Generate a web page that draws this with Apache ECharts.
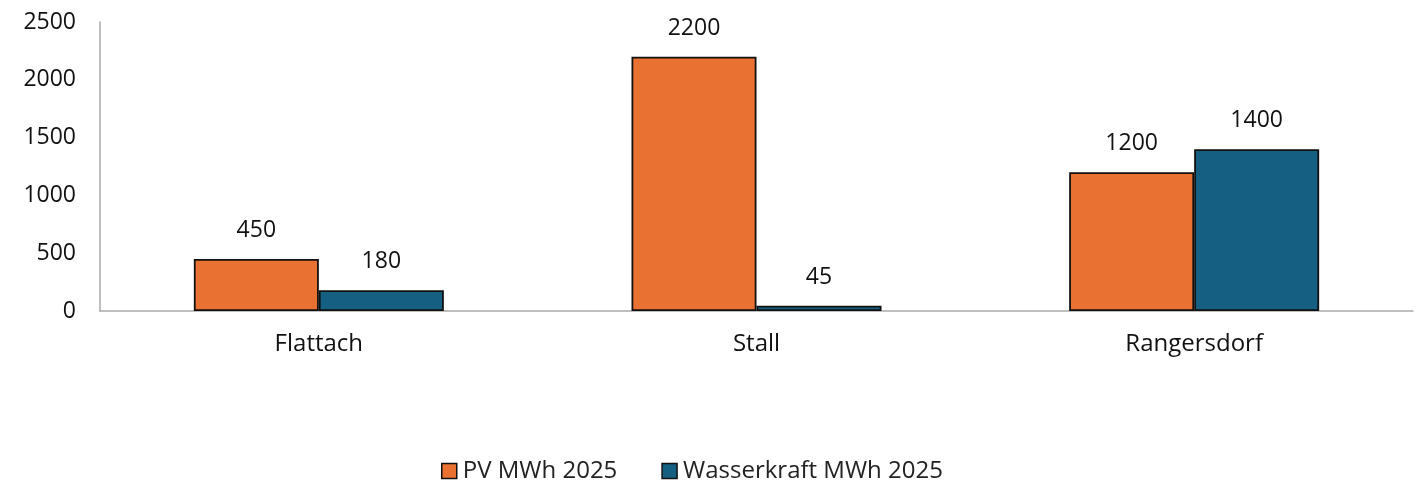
<!DOCTYPE html>
<html>
<head>
<meta charset="utf-8">
<script src="https://cdn.jsdelivr.net/npm/echarts@6/dist/echarts.min.js"></script>
<style>html,body{margin:0;padding:0;background:#fff}#c{width:1422px;height:491px}</style>
</head>
<body>
<div id="c"></div>
<script>
const categories = ['Flattach', 'Stall', 'Rangersdorf'];
const pvValues = [450, 2200, 1200];
const waterValues = [180, 45, 1400];
const seriesNames = ['PV MWh 2025', 'Wasserkraft MWh 2025'];

const font = '"Open Sans", "Noto Sans", sans-serif';
const chart = echarts.init(document.getElementById('c'));
const lbl = {show: true, position: 'top', distance: 17, color: '#111', fontSize: 23, fontFamily: font};
chart.setOption({
  animation: false,
  grid: {left: 100, right: 9, top: 22, bottom: 180, containLabel: false},
  legend: {
    top: 454, left: 436, itemWidth: 15, itemHeight: 15, itemGap: 44,
    icon: 'rect',
    itemStyle: {borderColor: '#111', borderWidth: 1.5},
    textStyle: {fontSize: 24, color: '#222', fontFamily: font, padding: [0, 0, 0, 1]},
    data: seriesNames
  },
  xAxis: {
    type: 'category', data: categories,
    axisLine: {lineStyle: {color: '#aaa', width: 1.5}},
    axisTick: {show: false},
    axisLabel: {fontSize: 24, color: '#111', margin: 21, fontFamily: font}
  },
  yAxis: {
    type: 'value', min: 0, max: 2500, interval: 500,
    splitLine: {show: false},
    axisLine: {show: true, lineStyle: {color: '#aaa', width: 1.5}},
    axisLabel: {fontSize: 23, color: '#111', margin: 24, fontFamily: font, formatter: v => String(v)}
  },
  series: [
    {name: seriesNames[0], type: 'bar', data: pvValues, barWidth: 125, barGap: '0%',
     itemStyle: {color: '#E97132', borderColor: '#111', borderWidth: 1.8}, label: lbl},
    {name: seriesNames[1], type: 'bar', data: waterValues, barWidth: 125,
     itemStyle: {color: '#156082', borderColor: '#111', borderWidth: 1.8}, label: lbl}
  ]
});
</script>
</body>
</html>
